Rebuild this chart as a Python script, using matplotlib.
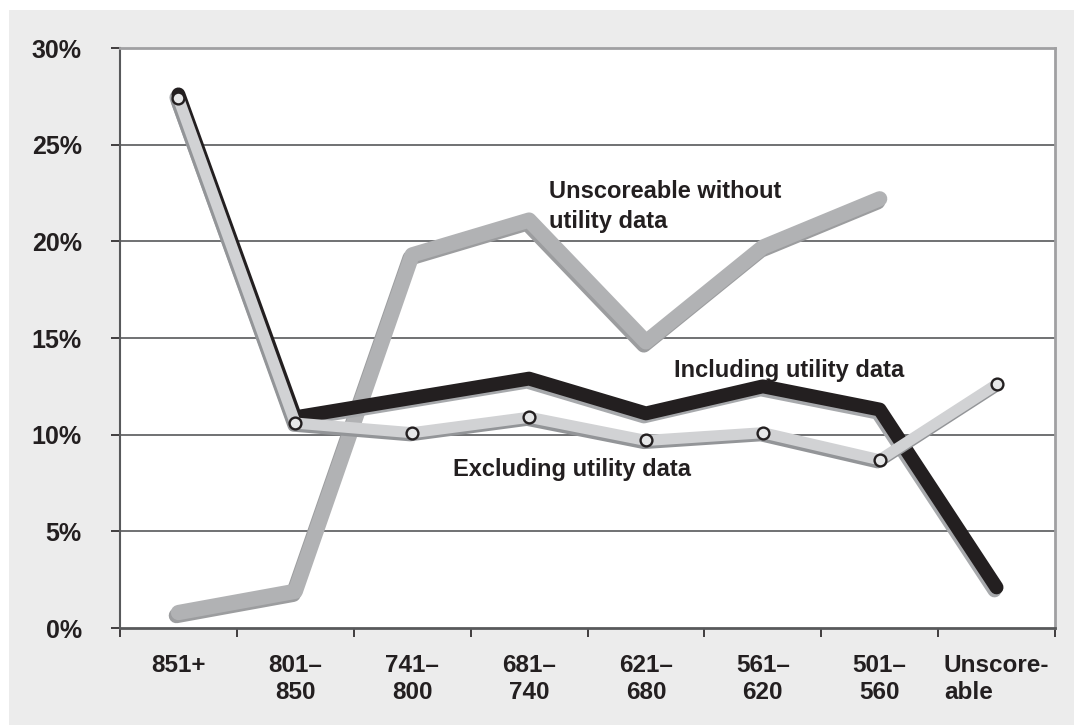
import matplotlib.pyplot as plt
import matplotlib.patheffects as pe
from matplotlib.patches import Rectangle

plt.rcParams['font.family'] = ['Liberation Sans', 'DejaVu Sans']
plt.rcParams['font.weight'] = 'bold'

# score bands
bands = ['851+', '801–\n850', '741–\n800', '681–\n740', '621–\n680',
         '561–\n620', '501–\n560', 'Unscore-\nable']

# share of consumers in each band (%)
including = [27.6, 10.9, 11.9, 12.9, 11.1, 12.5, 11.3, 2.1]
excluding = [27.4, 10.6, 10.1, 10.9, 9.7, 10.1, 8.7, 12.6]
unscoreable_wo = [0.8, 1.9, 19.3, 21.1, 14.8, 19.7, 22.2]

x = list(range(len(bands)))

fig = plt.figure(figsize=(10.74, 7.25), dpi=100, facecolor='white')
fig.patches.append(Rectangle((9 / 1074, 0), 1, 715 / 725, transform=fig.transFigure,
                             facecolor='#ececec', edgecolor='none', zorder=-10))
ax = fig.add_axes([120 / 1074, 97 / 725, 935 / 1074, 580 / 725])
ax.set_facecolor('white')


def shadow(color):
    return [pe.SimpleLineShadow(offset=(-1.5, -2.2), shadow_color=color, alpha=1),
            pe.Normal()]


ax.plot(x[:len(unscoreable_wo)], unscoreable_wo, color='#b1b2b4', lw=11,
        solid_capstyle='round', solid_joinstyle='round',
        path_effects=shadow('#9c9d9f'), zorder=3)
ax.plot(x, including, color='#231f20', lw=10,
        solid_capstyle='round', solid_joinstyle='round',
        path_effects=shadow('#a7a9ac'), zorder=4)
ax.plot(x, excluding, color='#d1d2d4', lw=8,
        solid_capstyle='round', solid_joinstyle='round',
        path_effects=shadow('#939598'), zorder=5)
ax.plot(x, excluding, ls='none', marker='o', ms=8.5, mfc='#e6e7e8',
        mec='#231f20', mew=1.7, zorder=6)

ax.text(3.17, 21.8, 'Unscoreable without\nutility data', fontsize=17,
        ha='left', va='center', color='#231f20', linespacing=1.35)
ax.text(4.24, 13.3, 'Including utility data', fontsize=17,
        ha='left', va='center', color='#231f20')
ax.text(2.35, 8.2, 'Excluding utility data', fontsize=17,
        ha='left', va='center', color='#231f20')

ax.set_xlim(-0.5, 7.5)
ax.set_ylim(0, 30)
ax.set_yticks(range(0, 31, 5))
ax.set_yticklabels([f'{v}%' for v in range(0, 31, 5)], fontsize=18, color='#231f20')
ax.tick_params(axis='y', length=6.5, width=1.2, color='#231f20', pad=21)

ax.set_xticks(x)
ax.set_xticklabels(bands, fontsize=17.5, color='#231f20', linespacing=1.2)
ax.set_xticks([i - 0.5 for i in range(len(bands) + 1)], minor=True)
ax.tick_params(axis='x', which='major', length=0, pad=19)
ax.tick_params(axis='x', which='minor', length=6.5, width=1.2, color='#231f20')
ax.get_xticklabels()[-1].set_multialignment('left')

for v in range(5, 30, 5):
    ax.axhline(v, color='#58595b', lw=1.2, zorder=1)
ax.spines['top'].set_color('#a0a0a2')
ax.spines['top'].set_linewidth(2)
ax.spines['right'].set_color('#a0a0a2')
ax.spines['right'].set_linewidth(2)
ax.spines['left'].set_color('#58595b')
ax.spines['left'].set_linewidth(1.5)
ax.spines['bottom'].set_color('#58595b')
ax.spines['bottom'].set_linewidth(2)

fig.savefig('out.png', dpi=100, facecolor=fig.get_facecolor())
